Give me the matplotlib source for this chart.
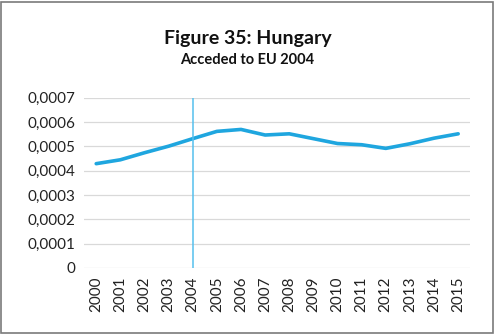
import matplotlib.pyplot as plt
from matplotlib.patches import Rectangle
from matplotlib.ticker import FuncFormatter

years = [str(y) for y in range(2000, 2016)]
values = [0.000429, 0.000445, 0.000474, 0.000501, 0.000532, 0.000562, 0.000570,
          0.000547, 0.000552, 0.000532, 0.000512, 0.000507, 0.000492, 0.000511,
          0.000534, 0.000552]
accession_year = "2004"

plt.rcParams['font.family'] = ['Lato', 'DejaVu Sans']

fig = plt.figure(figsize=(4.95, 3.34), dpi=100)
ax = fig.add_axes([0.17, 0.198, 0.78, 0.509])

x = range(len(years))
ax.plot(x, values, color='#1fa6df', linewidth=2.6, solid_capstyle='round')
# accession marker
ax.axvline(years.index(accession_year), color='#55c0ee', linewidth=1.1)

ax.set_ylim(0, 0.0007)
ax.set_xlim(-0.5, len(years) - 0.5)
ax.set_yticks([i * 0.0001 for i in range(8)])
ax.yaxis.set_major_formatter(FuncFormatter(
    lambda v, pos: '0' if v == 0 else f"{v:.4f}".replace('.', ',')))
ax.set_xticks(list(x))
ax.set_xticklabels(years, rotation=90)
ax.tick_params(length=0, labelsize=11, colors='#222222', pad=6)
ax.grid(axis='y', color='#d9d9d9', linewidth=0.9)
ax.set_axisbelow(True)
for s in ax.spines.values():
    s.set_visible(False)

fig.text(0.5, 0.885, "Figure 35: Hungary", ha='center', va='center',
         fontsize=14, fontweight='bold', color='#111111')
fig.text(0.5, 0.82, "Acceded to EU 2004", ha='center', va='center',
         fontsize=10.5, fontweight='bold', color='#111111')

fig.patches.append(Rectangle((0.002, 0.004), 0.994, 0.99, transform=fig.transFigure,
                             fill=False, edgecolor='#7a7a7a', linewidth=1.2))

fig.savefig('out.png', dpi=100)
